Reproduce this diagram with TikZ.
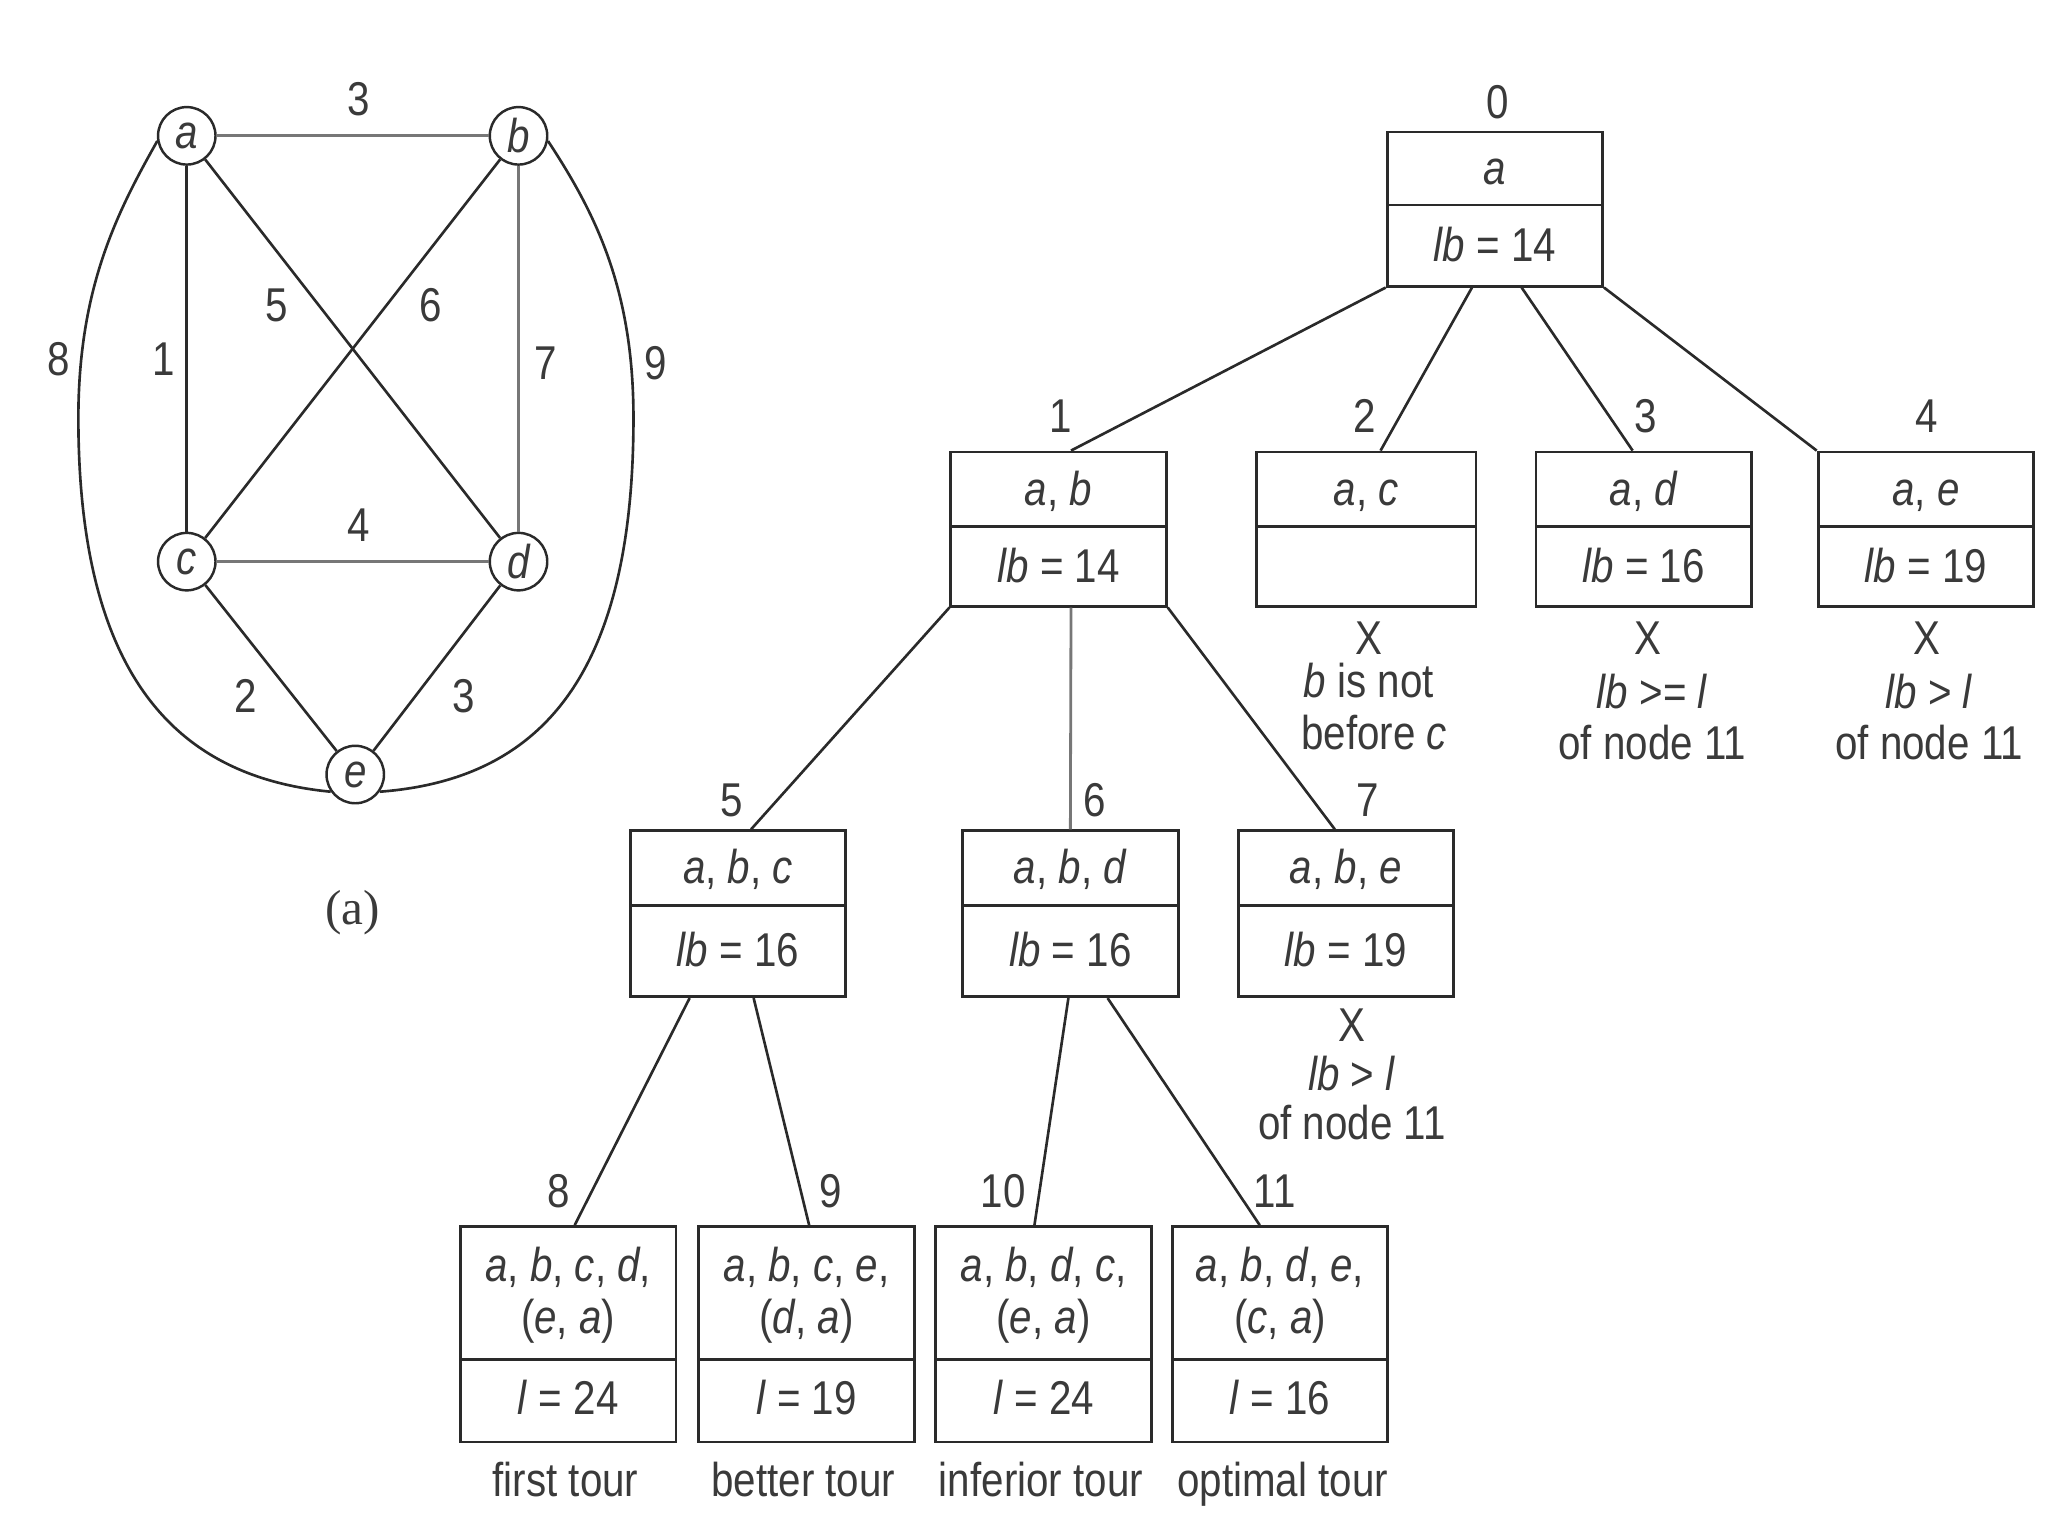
\documentclass[tikz,border=0pt]{standalone}
\usepackage{fontspec}
\setmainfont{Liberation Sans}[FakeStretch=0.85]
\newfontfamily\serifa{Liberation Serif}
\usetikzlibrary{calc}
\definecolor{linec}{HTML}{2A2A2A}
\definecolor{lightc}{HTML}{777777}
\definecolor{textc}{HTML}{3A3A3A}
\def\u{0.01306cm}
\tikzset{
 box/.style={draw=linec, line width=0.8pt, inner sep=0, minimum width=165*\u, anchor=north},
 txt/.style={text=textc, font=\fontsize{13.5}{15}\selectfont, inner sep=0, text height=11pt, text depth=1.5pt},
 edge/.style={draw=linec, line width=0.75pt},
 ledge/.style={draw=lightc, line width=0.8pt},
 divline/.style={draw=linec, line width=0.8pt},
 vtx/.style={circle, draw=linec, line width=0.7pt, minimum size=44*\u, inner sep=0, text=textc, font=\fontsize{13.5}{15}\selectfont\itshape},
}
% #1 name, #2 cx, #3 top, #4 divider, #5 bottom
\newcommand\treebox[5]{%
 \node[box, minimum height={(#5-#3)*\u}] (#1) at (#2,#3) {};
 \draw[divline] ({#2-82.5},#4) -- ({#2+82.5},#4);
}
\begin{document}
\begin{tikzpicture}[x=0.01306cm, y=-0.01306cm]
\path[use as bounding box] (0,0) rectangle (1568,1176);

% ---------- graph (a) ----------
\node[vtx] (a) at (143,104) {a};
\node[vtx] (b) at (397,104) {b};
\node[vtx] (c) at (143,430) {c};
\node[vtx] (d) at (397,430) {d};
\node[vtx] (e) at (272,593) {e};
\draw[ledge] (a) -- (b);
\draw[edge] (a) -- (c);
\draw[edge] (a) -- (d);
\draw[edge] (b) -- (c);
\draw[ledge] (b) -- (d);
\draw[ledge] (c) -- (d);
\draw[edge] (c) -- (e);
\draw[edge] (d) -- (e);
\draw[edge] (a.190) .. controls (90,162) and (60,220) .. (60,320)
  .. controls (60,520) and (137,595) .. (e.215);
\draw[edge] (b.-10) .. controls (455,162) and (485,220) .. (485,320)
  .. controls (485,520) and (412,597) .. (e.-35);
\node[txt] (wab) at (275,76) {3};
\node[txt] (wac) at (125,275) {1};
\node[txt] (wad) at (212,233) {5};
\node[txt] (wbc) at (330,233) {6};
\node[txt] (wbd) at (418,278) {7};
\node[txt] (wae) at (45,275) {8};
\node[txt] (wbe) at (502,278) {9};
\node[txt] (wcd) at (275,402) {4};
\node[txt] (wce) at (188,533) {2};
\node[txt] (wde) at (355,533) {3};
\node[txt, font=\serifa\fontsize{14}{16}\selectfont] (cap) at (270,695) {(a)};

% ---------- state-space tree ----------
\treebox{n0}{1144.5}{100}{157}{218}
\node[txt] (n0a) at (1144.5,128.5) {\textit{a}};
\node[txt] (n0b) at (1144.5,187.5) {\textit{lb} = 14};
\node[txt] (l0) at (1147,78) {0};

\treebox{n1}{810.5}{345}{403}{463}
\node[txt] (n1a) at (810.5,374) {\textit{a}, \textit{b}};
\node[txt] (n1b) at (810.5,433) {\textit{lb} = 14};
\node[txt] (l1) at (812,318) {1};

\node[box, minimum width=168*\u, minimum height={118*\u}] (n2) at (1046,345) {};
\draw[divline] (962,403) -- (1130,403);
\node[txt] (n2a) at (1046,374) {\textit{a}, \textit{c}};
\node[txt] (l2) at (1045,318) {2};

\treebox{n3}{1258.5}{345}{403}{463}
\node[txt] (n3a) at (1258.5,374) {\textit{a}, \textit{d}};
\node[txt] (n3b) at (1258.5,433) {\textit{lb} = 16};
\node[txt] (l3) at (1260,318) {3};

\treebox{n4}{1474.5}{345}{403}{463}
\node[txt] (n4a) at (1474.5,374) {\textit{a}, \textit{e}};
\node[txt] (n4b) at (1474.5,433) {\textit{lb} = 19};
\node[txt] (l4) at (1475,318) {4};

\treebox{n5}{565}{635}{693}{762}
\node[txt] (n5a) at (565,664) {\textit{a}, \textit{b}, \textit{c}};
\node[txt] (n5b) at (565,727) {\textit{lb} = 16};
\node[txt] (l5) at (560,612) {5};

\treebox{n6}{819.5}{635}{693}{762}
\node[txt] (n6a) at (819.5,664) {\textit{a}, \textit{b}, \textit{d}};
\node[txt] (n6b) at (819.5,727) {\textit{lb} = 16};
\node[txt] (l6) at (838,612) {6};

\treebox{n7}{1030.5}{635}{693}{762}
\node[txt] (n7a) at (1030.5,664) {\textit{a}, \textit{b}, \textit{e}};
\node[txt] (n7b) at (1030.5,727) {\textit{lb} = 19};
\node[txt] (l7) at (1047,612) {7};

\treebox{n8}{435}{938}{1041}{1103}
\node[txt] (n8a) at (435,968) {\textit{a}, \textit{b}, \textit{c}, \textit{d},};
\node[txt] (n8b) at (435,1008) {(\textit{e}, \textit{a})};
\node[txt] (n8c) at (435,1070) {\textit{l} = 24};
\node[txt] (l8) at (428,912) {8};
\node[txt] (c8) at (433,1133) {first tour};

\treebox{n9}{617.5}{938}{1041}{1103}
\node[txt] (n9a) at (617.5,968) {\textit{a}, \textit{b}, \textit{c}, \textit{e},};
\node[txt] (n9b) at (617.5,1008) {(\textit{d}, \textit{a})};
\node[txt] (n9c) at (617.5,1070) {\textit{l} = 19};
\node[txt] (l9) at (636,912) {9};
\node[txt] (c9) at (615,1133) {better tour};

\treebox{n10}{799}{938}{1041}{1103}
\node[txt] (n10a) at (799,968) {\textit{a}, \textit{b}, \textit{d}, \textit{c},};
\node[txt] (n10b) at (799,1008) {(\textit{e}, \textit{a})};
\node[txt] (n10c) at (799,1070) {\textit{l} = 24};
\node[txt] (l10) at (768,912) {10};
\node[txt] (c10) at (797,1133) {inferior tour};

\treebox{n11}{980}{938}{1041}{1103}
\node[txt] (n11a) at (980,968) {\textit{a}, \textit{b}, \textit{d}, \textit{e},};
\node[txt] (n11b) at (980,1008) {(\textit{c}, \textit{a})};
\node[txt] (n11c) at (980,1070) {\textit{l} = 16};
\node[txt] (l11) at (976,912) {11};
\node[txt] (c11) at (982,1133) {optimal tour};

% pruning notes
\node[txt] (x2) at (1048,488) {X};
\node[txt] (x2a) at (1048,521) {\textit{b} is not};
\node[txt] (x2b) at (1052,561) {before \textit{c}};
\node[txt] (x3) at (1262,488) {X};
\node[txt] (x3a) at (1265,530) {\textit{lb} >= \textit{l}};
\node[txt] (x3b) at (1265,569) {of node 11};
\node[txt] (x4) at (1475,488) {X};
\node[txt] (x4a) at (1477,530) {\textit{lb} > \textit{l}};
\node[txt] (x4b) at (1477,569) {of node 11};
\node[txt] (x7) at (1035,785) {X};
\node[txt] (x7a) at (1035,822) {\textit{lb} > \textit{l}};
\node[txt] (x7b) at (1035,860) {of node 11};

% tree edges
\draw[edge] (n0.south west) -- ([xshift={9.5*\u}]n1.north);
\draw[edge] ([xshift={-17.5*\u}]n0.south) -- ([xshift={11*\u}]n2.north);
\draw[edge] ([xshift={20.5*\u}]n0.south) -- ([xshift={-8.5*\u}]n3.north);
\draw[edge] (n0.south east) -- (n4.north west);
\draw[edge] (n1.south west) -- ([xshift={10*\u}]n5.north);
\draw[ledge] ([xshift={9.5*\u}]n1.south) -- (n6.north);
\draw[edge] (n1.south east) -- ([xshift={-8.5*\u}]n7.north);
\draw[edge] ([xshift={-37*\u}]n5.south) -- ([xshift={5*\u}]n8.north);
\draw[edge] ([xshift={12*\u}]n5.south) -- ([xshift={2*\u}]n9.north);
\draw[edge] ([xshift={-1.5*\u}]n6.south) -- ([xshift={-7*\u}]n10.north);
\draw[edge] ([xshift={28.5*\u}]n6.south) -- ([xshift={-15.5*\u}]n11.north);
\end{tikzpicture}
\end{document}
